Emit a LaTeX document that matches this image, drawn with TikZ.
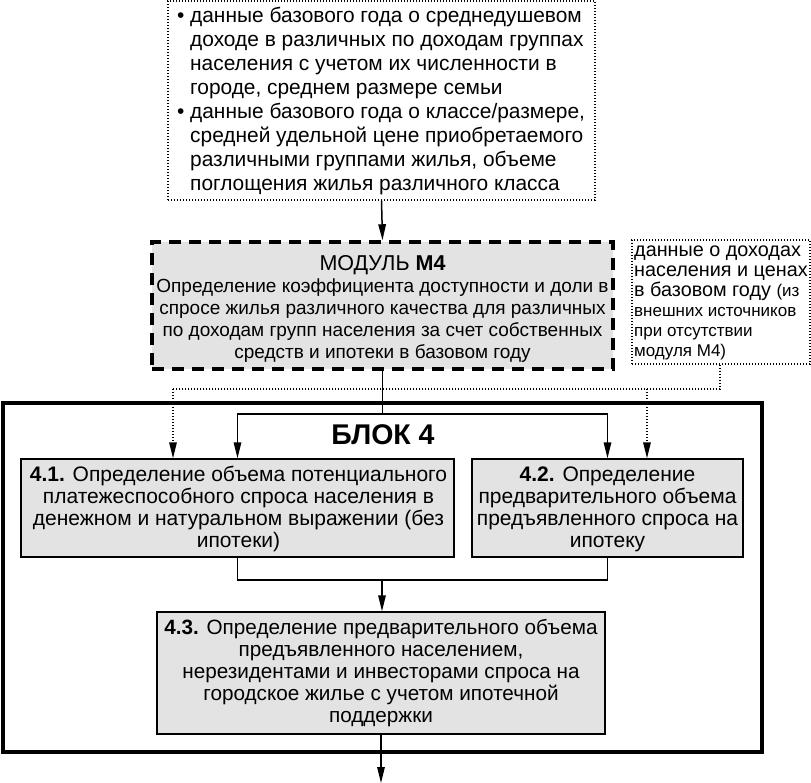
\documentclass[tikz,border=0pt]{standalone}
\usepackage{fontspec}
\setmainfont{Liberation Sans}
\usetikzlibrary{arrows.meta}
\definecolor{boxgray}{gray}{0.89}
\tikzset{
  tip/.style={-{Triangle[length=16pt,width=7.5pt]}},
  dotline/.style={line width=1.4pt,dash pattern=on 1.4pt off 1.6pt},
  graybox/.style={draw,line width=1.3pt,fill=boxgray,inner sep=0pt},
  txt/.style={inner sep=0pt,align=center},
  conn/.style={line width=1.5pt},
}
\begin{document}
\begin{tikzpicture}[x=1pt,y=-1pt]
\useasboundingbox (0,0) rectangle (811,783);
% top dotted box
\node[dotline,draw,minimum width=427pt,minimum height=199pt,inner sep=0pt] (top) at (381.5,100.5) {};
\node[inner sep=0pt,anchor=west,align=left,font=\fontsize{20.9}{24}\selectfont] (toptext) at (177,101)
 {\makebox[13pt][l]{\textbullet}данные базового года о среднедушевом\\
  \hspace*{13pt}доходе в различных по доходам группах\\
  \hspace*{13pt}населения с учетом их численности в\\
  \hspace*{13pt}городе, среднем размере семьи\\
  \makebox[13pt][l]{\textbullet}данные базового года о классе/размере,\\
  \hspace*{13pt}средней удельной цене приобретаемого\\
  \hspace*{13pt}различными группами жилья, объеме\\
  \hspace*{13pt}поглощения жилья различного класса};
% M4 dashed box
\node[draw,line width=3.5pt,dash pattern=on 12pt off 8pt,fill=boxgray,minimum width=461pt,minimum height=127pt,
      inner sep=0pt] (m4) at (382.5,305.5) {};
\node[txt,font=\fontsize{19}{22}\selectfont] (m4text) at (382.5,309)
 {{\fontsize{21.5}{22}\selectfont МОДУЛЬ \textbf{М4}}\\
  Определение коэффициента доступности и доли в\\
  спросе жилья различного качества для различных\\
  по доходам групп населения за счет собственных\\
  средств и ипотеки в базовом году};
% right dotted box
\node[dotline,draw,minimum width=178pt,minimum height=124pt,inner sep=0pt] (rb) at (721,302) {};
\node[inner sep=0pt,anchor=west,align=left,font=\fontsize{19.8}{20}\selectfont] (rbtext) at (634,303)
 {данные о доходах\\
  населения и ценах\\
  в базовом году {\fontsize{17}{20}\selectfont(из}\\
  {\fontsize{17}{20}\selectfont внешних источников}\\
  {\fontsize{17}{20}\selectfont при отсутствии}\\
  {\fontsize{17}{20}\selectfont модуля М4)}};
% BLOCK 4 outer frame
\node[draw,line width=4.5pt,minimum width=759pt,minimum height=349pt,inner sep=0pt] (blok) at (382.5,577.5) {};
\node[font=\bfseries\fontsize{28.5}{32}\selectfont,inner sep=0pt] (bloktitle) at (383,435) {БЛОК 4};
% inner boxes
\node[graybox,minimum width=433pt,minimum height=98pt] (b41) at (237.5,508) {};
\node[txt,font=\fontsize{21}{22}\selectfont] (b41text) at (238.5,509)
 {\textbf{4.1.} Определение объема потенциального\\
  платежеспособного спроса населения в\\
  денежном и натуральном выражении (без\\
  ипотеки)};
\node[graybox,minimum width=271pt,minimum height=98pt] (b42) at (607.5,508) {};
\node[txt,font=\fontsize{21}{22}\selectfont] (b42text) at (607.5,509)
 {\textbf{4.2.} Определение\\
  предварительного объема\\
  предъявленного спроса на\\
  ипотеку};
\node[graybox,minimum width=448pt,minimum height=122pt] (b43) at (381,673) {};
\node[txt,font=\fontsize{20.7}{22}\selectfont] (b43text) at (381,673)
 {\textbf{4.3.} Определение предварительного объема\\
  предъявленного населением,\\
  нерезидентами и инвесторами спроса на\\
  городское жилье с учетом ипотечной\\
  поддержки};
% coordinates
\coordinate (j1) at (382.5,414);
\coordinate (j2) at (382,580);
\coordinate (dl) at (173,389);
\coordinate (dr) at (647,389);
\coordinate (dc) at (720,389);
\coordinate (endpt) at (381,783);
% connectors
\draw[conn,tip] (top.south) -- (m4.north);
\draw[conn] (m4.south) -- (j1);
\draw[conn,tip] (j1) -| (b41.north);
\draw[conn,tip] (j1) -| (b42.north);
\draw[dotline] (rb.south -| dc) -- (dc) -- (dl);
\draw[dotline,tip] (dl) -- (dl |- b41.north);
\draw[dotline,tip] (dr) -- (dr |- b42.north);
\draw[conn] (b41.south) |- (j2);
\draw[conn] (b42.south) |- (j2);
\draw[conn,tip] (j2) -- (b43.north -| j2);
\draw[conn,tip] (b43.south) -- (endpt);
\end{tikzpicture}
\end{document}
